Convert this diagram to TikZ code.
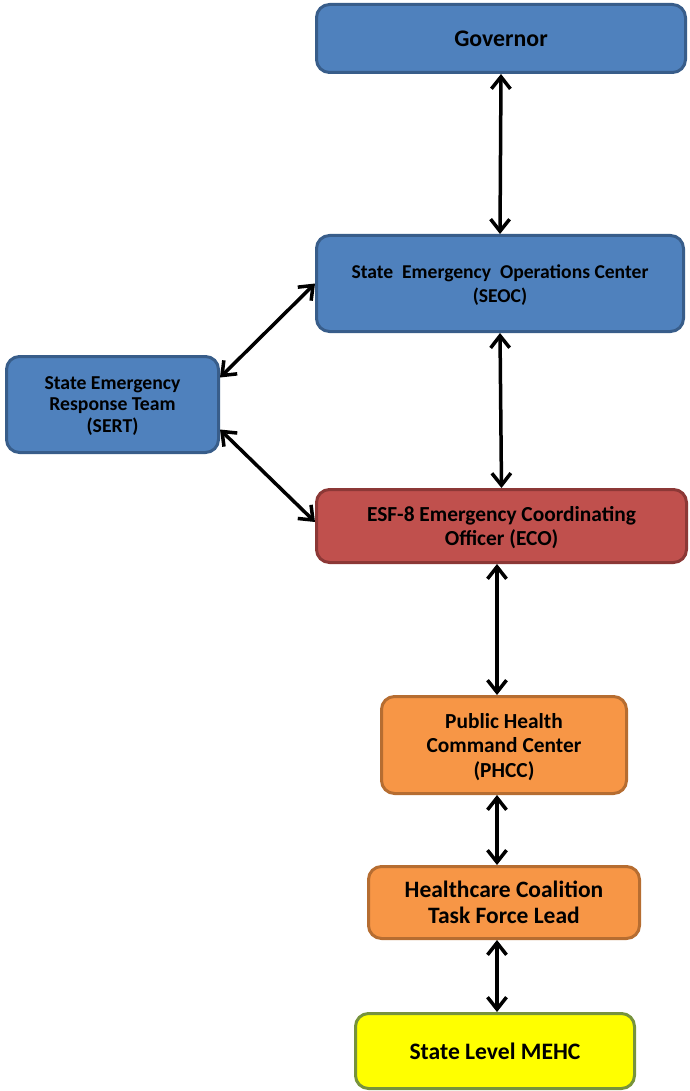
\documentclass[tikz,border=0pt]{standalone}
\usepackage{fontspec}
\setmainfont{Carlito}
\usepackage{tikz}
\usetikzlibrary{arrows.meta,positioning}
\definecolor{boxblue}{HTML}{4F81BD}
\definecolor{blueedge}{HTML}{385D8A}
\definecolor{ecored}{HTML}{C0504D}
\definecolor{rededge}{HTML}{8C3836}
\definecolor{phorange}{HTML}{F79646}
\definecolor{orangeedge}{HTML}{B66D31}
\definecolor{mehcyellow}{HTML}{FFFF00}
\definecolor{oliveedge}{HTML}{77933C}
\newcommand{\fsz}[2]{\bfseries\fontsize{#1}{#2}\selectfont}
\tikzset{
  unit/.style     ={rounded corners=13pt,line width=3pt,align=center,inner sep=2pt,
                    text depth=0pt},
  bluebox/.style  ={unit,draw=blueedge,fill=boxblue},
  redbox/.style   ={unit,draw=rededge,fill=ecored},
  orangebox/.style={unit,draw=orangeedge,fill=phorange},
  yellowbox/.style={unit,draw=oliveedge,fill=mehcyellow},
  link/.style     ={{Straight Barb[length=12pt,width=19pt]}-{Straight Barb[length=12pt,width=19pt]},
                    line width=3.5pt,draw=black}
}

\begin{document}
\begin{tikzpicture}[x=1pt,y=-1pt]
  \useasboundingbox (0,0) rectangle (689,1091);
  \node[bluebox,minimum width=369pt,minimum height=68pt,font=\fsz{23.8}{28}] (gov) at (501,38.5)
    {Governor};
  \node[bluebox,minimum width=367pt,minimum height=96pt,font=\fsz{19.6}{24}] (seoc) at (500,283.5)
    {State~ Emergency~ Operations Center\\(SEOC)};
  \node[bluebox,minimum width=212pt,minimum height=96pt,font=\fsz{19.7}{21.5}] (sert) at (112.5,404.5)
    {State Emergency\\Response Team\\(SERT)};
  \node[redbox,minimum width=370pt,minimum height=73pt,font=\fsz{21.4}{24}] (eco) at (501.5,526)
    {ESF-8 Emergency Coordinating\\Officer (ECO)};
  \node[orangebox,minimum width=245pt,minimum height=97pt,font=\fsz{21.4}{24.5}] (phcc) at (504,745)
    {Public Health\\Command Center\\(PHCC)};
  \node[orangebox,minimum width=271pt,minimum height=72pt,font=\fsz{23.5}{26}] (hctf) at (504,902.5)
    {Healthcare Coalition\\Task Force Lead};
  \node[yellowbox,minimum width=279pt,minimum height=75pt,font=\fsz{23.6}{28}] (mehc) at (495,1051)
    {State Level MEHC};

  \draw[link] (gov.south) -- (seoc.north);
  \draw[link] (seoc.west) -- ([yshift=27pt]sert.east);
  \draw[link] ([yshift=-25pt]sert.east) -- ([yshift=4pt]eco.west);
  \draw[link] (seoc.south) -- (eco.north);
  \draw[link] ([xshift=-4.5pt]eco.south) -- ([xshift=-7pt]phcc.north);
  \draw[link] ([xshift=-7pt]phcc.south) -- ([xshift=-7pt]hctf.north);
  \draw[link] ([xshift=-7pt]hctf.south) -- ([xshift=2pt]mehc.north);
\end{tikzpicture}
\end{document}
